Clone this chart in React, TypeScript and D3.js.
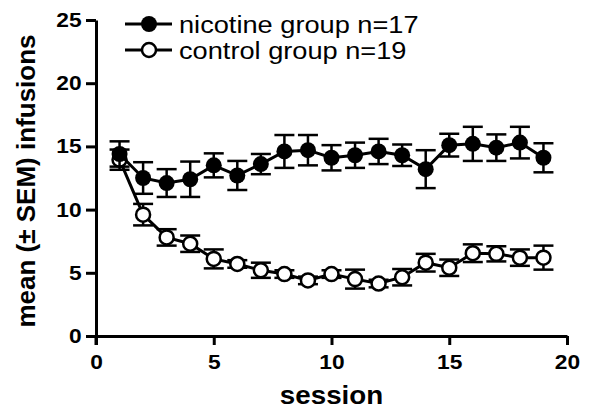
import { useEffect, useRef } from 'react';
import * as d3 from 'd3';

const sessions = d3.range(1, 20);
const nicotineMean = [14.4, 12.5, 12.1, 12.4, 13.5, 12.7, 13.6, 14.6, 14.7, 14.1, 14.3, 14.6, 14.3, 13.2, 15.1, 15.2, 14.9, 15.3, 14.1];
const nicotineSem = [1.0, 1.25, 1.1, 1.4, 0.95, 1.15, 0.8, 1.3, 1.2, 1.0, 1.0, 1.0, 0.85, 1.5, 0.9, 1.35, 1.05, 1.25, 1.15];
const controlMean = [13.95, 9.6, 7.8, 7.3, 6.1, 5.7, 5.2, 4.9, 4.4, 4.9, 4.5, 4.15, 4.65, 5.8, 5.4, 6.55, 6.5, 6.2, 6.2];
const controlSem = [0.8, 0.85, 0.65, 0.65, 0.75, 0.3, 0.6, 0.3, 0.3, 0.3, 0.75, 0.3, 0.65, 0.7, 0.65, 0.7, 0.6, 0.65, 0.95];
const xTicks = [0, 5, 10, 15, 20];
const yTicks = [0, 5, 10, 15, 20, 25];
const legendLabels = ['nicotine group n=17', 'control group n=19'];

export default function App() {
  const svgRef = useRef<SVGSVGElement>(null);

  useEffect(() => {
    if (!svgRef.current) return;
    const svg = d3.select(svgRef.current);
    svg.selectAll('*').remove();

    const x = d3.scaleLinear().domain([0, 20]).range([96, 567]);
    const y = d3.scaleLinear().domain([0, 25]).range([336, 20]);
    const font = 'Arial, "Liberation Sans", sans-serif';
    const stretch = 'scale(1.11,1)'; // the original text is a little wide

    const g = svg.append('g');

    // axes
    const yAxis = g.append('g').attr('transform', `translate(${x(0)},0)`)
      .call(d3.axisLeft(y).tickValues(yTicks).tickSize(10).tickPadding(3).tickSizeOuter(0));
    const xAxis = g.append('g').attr('transform', `translate(0,${y(0)})`)
      .call(d3.axisBottom(x).tickValues(xTicks).tickSize(9).tickPadding(9).tickSizeOuter(0));
    [yAxis, xAxis].forEach(a => {
      a.select('.domain').attr('stroke', '#000').attr('stroke-width', 3);
      a.selectAll('.tick line').attr('stroke', '#000').attr('stroke-width', 3);
      a.selectAll('.tick text')
        .attr('fill', '#000')
        .attr('transform', stretch)
        .style('font-family', font)
        .style('font-weight', 'bold')
        .style('font-size', '20.5px');
    });
    // extend y axis down to the x tick length
    g.append('line')
      .attr('x1', x(0)).attr('x2', x(0))
      .attr('y1', y(0)).attr('y2', y(0) + 9)
      .attr('stroke', '#000').attr('stroke-width', 3);

    g.append('text')
      .attr('transform', `translate(${(x(0) + x(20)) / 2},404) ${stretch}`)
      .attr('text-anchor', 'middle')
      .style('font-family', font)
      .style('font-weight', 'bold')
      .style('font-size', '25px')
      .text('session');

    g.append('text')
      .attr('transform', `translate(35,${(y(0) + y(25)) / 2 + 3}) rotate(-90)`)
      .attr('text-anchor', 'middle')
      .style('font-family', font)
      .style('font-weight', 'bold')
      .style('font-size', '26px')
      .text('mean (\u00b1 SEM) infusions');

    const series = [
      { mean: controlMean, sem: controlSem, filled: false },
      { mean: nicotineMean, sem: nicotineSem, filled: true },
    ];

    const line = d3.line<number>()
      .x((_, i) => x(sessions[i]))
      .y(d => y(d));

    series.forEach(s => {
      const sg = g.append('g');
      sg.append('path')
        .attr('d', line(s.mean))
        .attr('fill', 'none')
        .attr('stroke', '#000')
        .attr('stroke-width', 3);

      s.mean.forEach((m, i) => {
        const cx = x(sessions[i]);
        const top = y(m + s.sem[i]);
        const bot = y(m - s.sem[i]);
        sg.append('line').attr('x1', cx).attr('x2', cx).attr('y1', top).attr('y2', bot)
          .attr('stroke', '#000').attr('stroke-width', 2.5);
        [top, bot].forEach(yy => {
          sg.append('line').attr('x1', cx - 10).attr('x2', cx + 10).attr('y1', yy).attr('y2', yy)
            .attr('stroke', '#000').attr('stroke-width', 2.5);
        });
      });

      sg.selectAll('circle')
        .data(s.mean)
        .enter()
        .append('circle')
        .attr('cx', (_, i) => x(sessions[i]))
        .attr('cy', d => y(d))
        .attr('r', s.filled ? 8 : 7)
        .attr('fill', s.filled ? '#000' : '#fff')
        .attr('stroke', '#000')
        .attr('stroke-width', s.filled ? 0 : 2.5);
    });

    // legend
    legendLabels.forEach((label, i) => {
      const ly = 24 + i * 26;
      const lg = g.append('g');
      lg.append('line').attr('x1', 125).attr('x2', 172).attr('y1', ly).attr('y2', ly)
        .attr('stroke', '#000').attr('stroke-width', 3);
      lg.append('circle').attr('cx', 149).attr('cy', ly)
        .attr('r', i === 0 ? 8 : 7)
        .attr('fill', i === 0 ? '#000' : '#fff')
        .attr('stroke', '#000')
        .attr('stroke-width', i === 0 ? 0 : 2.5);
      lg.append('text')
        .attr('transform', `translate(179,${ly + 8.7}) ${stretch}`)
        .style('font-family', font)
        .style('font-size', '24.5px')
        .text(label);
    });
  }, []);

  return (
    <svg
      ref={svgRef}
      width={597}
      height={411}
      style={{ position: 'absolute', left: 0, top: 0, background: '#fff', display: 'block' }}
    />
  );
}
